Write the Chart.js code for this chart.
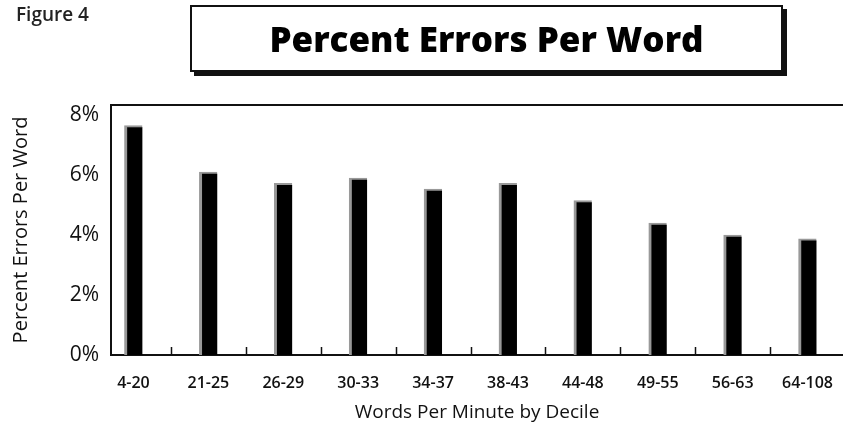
<!DOCTYPE html>
<html>
<head>
<meta charset="utf-8">
<script src="https://cdn.jsdelivr.net/npm/chart.js@4/dist/chart.umd.min.js"></script>
<style>
  html, body { margin: 0; padding: 0; background: #fff; }
  #wrap { position: relative; width: 844px; height: 429px; }
  #fig { position: absolute; left: 16px; top: 1px; font: 600 19px "Open Sans", sans-serif; color: #222; }
  #title {
    position: absolute; left: 190px; top: 5px; width: 589px; height: 63px;
    border: 2px solid #111; box-shadow: 4px 4px 0 #111;
    font: 800 35px "Open Sans", sans-serif; color: #000;
    display: flex; align-items: center; justify-content: center;
  }
  canvas { position: absolute; left: 0; top: 0; }
</style>
</head>
<body>
<div id="wrap">
  <canvas id="errorsChart" width="844" height="429"></canvas>
  <div id="fig">Figure 4</div>
  <div id="title">Percent Errors Per Word</div>
</div>
<script>
// words-per-minute deciles and percent errors per word
const deciles = ['4-20', '21-25', '26-29', '30-33', '34-37', '38-43', '44-48', '49-55', '56-63', '64-108'];
const errorPct = [7.65, 6.1, 5.72, 5.9, 5.53, 5.72, 5.15, 4.4, 4.0, 3.87];
const yTicks = [0, 2, 4, 6, 8];

// small tick marks between deciles, drawn up into the plot, plus the top frame line
const frameMarks = {
    id: 'frameMarks',
    afterDraw(chart) {
        const { ctx, chartArea: a, scales: { x } } = chart;
        ctx.save();
        ctx.strokeStyle = '#111';
        ctx.lineWidth = 2;
        ctx.beginPath();
        ctx.moveTo(a.left, a.top);
        ctx.lineTo(a.right, a.top);
        ctx.stroke();
        ctx.lineWidth = 1.5;
        ctx.beginPath();
        deciles.slice(1).forEach((_, i) => {
            const px = Math.round(x.getPixelForValue(i + 0.5)) + 0.5;
            ctx.moveTo(px, a.bottom);
            ctx.lineTo(px, a.bottom - 8);
        });
        ctx.stroke();
        ctx.restore();
    }
};

const ctx = document.getElementById('errorsChart').getContext('2d');
const errorsChart = new Chart(ctx, {
    type: 'bar',
    data: {
        datasets: [{
            data: errorPct.map((v, i) => ({ x: i, y: v })),
            backgroundColor: '#000',
            borderColor: '#999',
            borderWidth: { left: 3, top: 2, right: 0, bottom: 0 },
            barThickness: 18
        }]
    },
    options: {
        responsive: false,
        animation: false,
        layout: { padding: { top: 105, right: 0, bottom: 0, left: 0 } },
        plugins: {
            legend: { display: false },
            tooltip: { enabled: false }
        },
        scales: {
            x: {
                type: 'linear',
                offset: false,
                min: -0.3,
                max: 9.473,
                grid: { display: false, offset: false },
                border: { display: true, color: '#111', width: 2 },
                afterBuildTicks: scale => {
                    scale.ticks = deciles.map((_, i) => ({ value: i }));
                },
                afterFit: scale => { scale.height = 74; },
                ticks: {
                    autoSkip: false,
                    maxRotation: 0,
                    padding: 11,
                    color: '#111',
                    font: { family: 'Open Sans', size: 16, weight: '600' },
                    callback: value => deciles[value]
                },
                title: {
                    display: true,
                    text: 'Words Per Minute by Decile',
                    color: '#111',
                    font: { family: 'Open Sans', size: 19 },
                    padding: { top: 0, bottom: 5 }
                }
            },
            y: {
                min: 0,
                max: 8.333,
                grid: { display: false },
                border: { display: true, color: '#111', width: 2 },
                afterBuildTicks: scale => {
                    scale.ticks = yTicks.map(v => ({ value: v }));
                },
                afterFit: scale => { scale.width = 111; },
                ticks: {
                    padding: 4,
                    color: '#111',
                    font: { family: 'Open Sans', size: 21, weight: '500' },
                    callback: value => value + '%'
                },
                title: {
                    display: true,
                    text: 'Percent Errors Per Word',
                    color: '#111',
                    font: { family: 'Open Sans', size: 20 },
                    padding: { top: 9, bottom: 0 }
                }
            }
        }
    },
    plugins: [frameMarks]
});
</script>
</body>
</html>
